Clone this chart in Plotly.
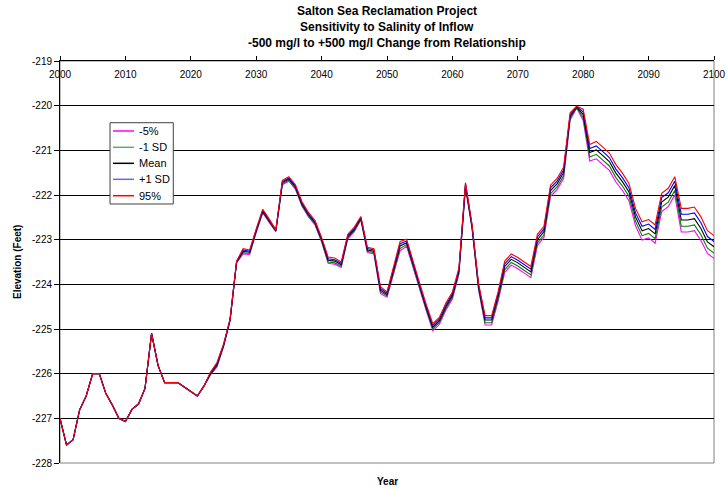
import plotly.graph_objects as go

years = list(range(2000, 2101))

early = [-227.0, -227.6, -227.48, -226.81, -226.5, -226.0, -226.0, -226.44, -226.7, -227.0,
         -227.07, -226.8, -226.68, -226.33, -225.1, -225.82, -226.2, -226.2, -226.2, -226.3,
         -226.4, -226.5, -226.28]

mean_late = [-226.0, -225.8, -225.37, -224.8, -223.5, -223.26, -223.28, -222.8, -222.36, -222.58,
             -222.8, -221.72, -221.64, -221.82, -222.2, -222.44, -222.62, -223.0, -223.46, -223.48,
             -223.56, -222.93, -222.77, -222.52, -223.23, -223.26, -224.13, -224.23, -223.68, -223.14,
             -223.07, -223.57, -224.05, -224.52, -224.96, -224.82, -224.5, -224.25, -223.7, -221.78,
             -222.7, -224.05, -224.8, -224.8, -224.26, -223.6, -223.44, -223.52, -223.62, -223.72,
             -223.0, -222.82, -221.9, -221.75, -221.5, -220.24, -220.03, -220.2, -221.05, -220.99,
             -221.12, -221.25, -221.51, -221.7, -221.93, -222.49, -222.8, -222.75, -222.87, -222.16,
             -222.05, -221.79, -222.56, -222.56, -222.53, -222.75, -223.05, -223.16]

p95_late = [-225.97, -225.75, -225.34, -224.78, -223.48, -223.2, -223.23, -222.76, -222.32, -222.54,
            -222.78, -221.67, -221.59, -221.77, -222.15, -222.39, -222.57, -222.95, -223.39, -223.41,
            -223.5, -222.88, -222.72, -222.48, -223.17, -223.2, -224.05, -224.17, -223.61, -223.04,
            -222.99, -223.5, -223.98, -224.45, -224.88, -224.74, -224.42, -224.17, -223.63, -221.72,
            -222.65, -223.98, -224.7, -224.7, -224.16, -223.48, -223.32, -223.4, -223.5, -223.6,
            -222.88, -222.7, -221.78, -221.63, -221.38, -220.16, -220.01, -220.08, -220.87, -220.8,
            -220.93, -221.06, -221.32, -221.51, -221.74, -222.3, -222.6, -222.55, -222.67, -221.96,
            -221.85, -221.59, -222.3, -222.3, -222.27, -222.49, -222.8, -222.91]

psd_late = [-225.98, -225.78, -225.36, -224.79, -223.49, -223.23, -223.26, -222.78, -222.34, -222.56,
            -222.79, -221.7, -221.62, -221.8, -222.18, -222.42, -222.6, -222.98, -223.43, -223.45,
            -223.53, -222.91, -222.75, -222.5, -223.2, -223.23, -224.09, -224.2, -223.65, -223.09,
            -223.03, -223.54, -224.02, -224.49, -224.92, -224.78, -224.46, -224.21, -223.67, -221.75,
            -222.68, -224.02, -224.75, -224.75, -224.21, -223.54, -223.38, -223.46, -223.56, -223.66,
            -222.94, -222.76, -221.84, -221.69, -221.44, -220.2, -220.02, -220.14, -220.96, -220.9,
            -221.03, -221.16, -221.42, -221.61, -221.84, -222.4, -222.7, -222.65, -222.77, -222.06,
            -221.95, -221.69, -222.43, -222.43, -222.4, -222.62, -222.93, -223.04]

msd_late = [-226.02, -225.83, -225.39, -224.81, -223.51, -223.29, -223.31, -222.82, -222.38, -222.6,
            -222.81, -221.75, -221.67, -221.85, -222.23, -222.47, -222.65, -223.03, -223.5, -223.52,
            -223.59, -222.96, -222.8, -222.54, -223.26, -223.29, -224.17, -224.26, -223.72, -223.2,
            -223.11, -223.61, -224.09, -224.56, -225.0, -224.86, -224.54, -224.29, -223.74, -221.81,
            -222.73, -224.09, -224.86, -224.86, -224.32, -223.67, -223.51, -223.59, -223.69, -223.79,
            -223.07, -222.89, -221.97, -221.82, -221.57, -220.28, -220.04, -220.27, -221.15, -221.09,
            -221.22, -221.35, -221.61, -221.8, -222.03, -222.59, -222.91, -222.86, -222.98, -222.27,
            -222.16, -221.9, -222.7, -222.7, -222.67, -222.89, -223.19, -223.3]

p5_late = [-226.03, -225.85, -225.4, -224.82, -223.52, -223.32, -223.33, -222.84, -222.4, -222.62,
           -222.82, -221.77, -221.69, -221.87, -222.25, -222.49, -222.67, -223.05, -223.53, -223.55,
           -223.62, -222.98, -222.82, -222.56, -223.29, -223.32, -224.21, -224.29, -223.75, -223.25,
           -223.15, -223.64, -224.12, -224.59, -225.04, -224.9, -224.58, -224.33, -223.77, -221.84,
           -222.75, -224.12, -224.91, -224.91, -224.37, -223.73, -223.57, -223.65, -223.75, -223.85,
           -223.13, -222.95, -222.03, -221.88, -221.63, -220.32, -220.05, -220.33, -221.24, -221.19,
           -221.32, -221.45, -221.71, -221.9, -222.13, -222.69, -223.01, -222.96, -223.08, -222.37,
           -222.26, -222.0, -222.83, -222.83, -222.8, -223.02, -223.31, -223.42]

series_names = ["-5%", "-1 SD", "Mean", "+1 SD", "95%"]
series_values = [early + p5_late, early + msd_late, early + mean_late, early + psd_late, early + p95_late]
series_colors = ["#FF00FF", "#008000", "#000000", "#0000FF", "#FF0000"]
legend_colors = ["#FF00FF", "#5BAF5B", "#000000", "#6666FF", "#FF0000"]

y_tick_values = [-228, -227, -226, -225, -224, -223, -222, -221, -220, -219]
y_tick_labels = ["-228", "-227", "-226", "-225", "-224", "-223", "-222", "-221", "-220", "-219"]
x_tick_values = [2000, 2010, 2020, 2030, 2040, 2050, 2060, 2070, 2080, 2090, 2100]
x_tick_labels = ["2000", "2010", "2020", "2030", "2040", "2050", "2060", "2070", "2080", "2090", "2100"]

title_lines = ["Salton Sea Reclamation Project",
               "Sensitivity to Salinity of Inflow",
               "-500 mg/l to +500 mg/l Change from Relationship"]

FONT = "Liberation Sans, Arial, sans-serif"

fig = go.Figure()
for name, vals, col in zip(series_names, series_values, series_colors):
    fig.add_trace(go.Scatter(x=years, y=vals, mode="lines", name=name,
                             line=dict(color=col, width=1.1)))

fig.update_layout(
    width=727, height=490,
    margin=dict(l=60, r=13, t=61, b=27, autoexpand=False),
    paper_bgcolor="white", plot_bgcolor="white",
    font=dict(family=FONT, size=10, color="black"),
    showlegend=False,
)

fig.update_xaxes(range=[2000, 2100], side="top", tickvals=x_tick_values, ticktext=x_tick_labels,
                 ticks="outside", ticklen=4, tickcolor="black",
                 ticklabelposition="inside", ticklabeloverflow="allow", ticklabelstandoff=9,
                 showgrid=False, automargin=False,
                 showline=True, linecolor="black", linewidth=1, zeroline=False,
                 tickfont=dict(family=FONT, size=10, color="black"))
fig.update_yaxes(range=[-228, -219], tickvals=y_tick_values, ticktext=y_tick_labels,
                 ticks="outside", ticklen=5, tickcolor="black", automargin=False,
                 showgrid=True, gridcolor="#000000", gridwidth=1,
                 showline=True, linecolor="black", linewidth=1, zeroline=False,
                 tickfont=dict(family=FONT, size=10, color="black"))

# plot-area border (right and bottom grey)
fig.add_shape(type="rect", xref="paper", yref="paper", x0=0, x1=1, y0=0, y1=1,
              line=dict(color="#808080", width=1), layer="below")

# legend box (manual, to match the compact Excel legend)
fig.add_shape(type="rect", xref="paper", yref="paper", x0=0.0765, x1=0.1732, y0=0.6443, y1=0.8465,
              line=dict(color="#404040", width=1), fillcolor="white", layer="above")
legend_y = [0.8259, 0.7853, 0.7455, 0.7057, 0.6649]
for name, col, ly in zip(series_names, legend_colors, legend_y):
    fig.add_shape(type="line", xref="paper", yref="paper", x0=0.081, x1=0.1131, y0=ly, y1=ly,
                  line=dict(color=col, width=1.5), layer="above")
    fig.add_annotation(text=name, x=0.117, y=ly, xref="paper", yref="paper",
                       xanchor="left", yanchor="middle", showarrow=False,
                       font=dict(family=FONT, size=11, color="black"))

ys = [1.1244, 1.0846, 1.0448]
for t, yy in zip(title_lines, ys):
    fig.add_annotation(text="<b>" + t + "</b>", x=0.5, y=yy, xref="paper", yref="paper",
                       xanchor="center", yanchor="middle", showarrow=False,
                       font=dict(family=FONT, size=12, color="black"))

fig.add_annotation(text="<b>Elevation (Feet)</b>", x=-0.0657, y=0.5, xref="paper", yref="paper",
                   textangle=-90, xanchor="center", yanchor="middle", showarrow=False,
                   font=dict(family=FONT, size=10, color="black"))
fig.add_annotation(text="<b>Year</b>", x=0.5, y=-0.0448, xref="paper", yref="paper",
                   xanchor="center", yanchor="middle", showarrow=False,
                   font=dict(family=FONT, size=10, color="black"))

fig.write_html("out.html", config={"displayModeBar": False},
               post_script="document.body.style.margin='0px';")
